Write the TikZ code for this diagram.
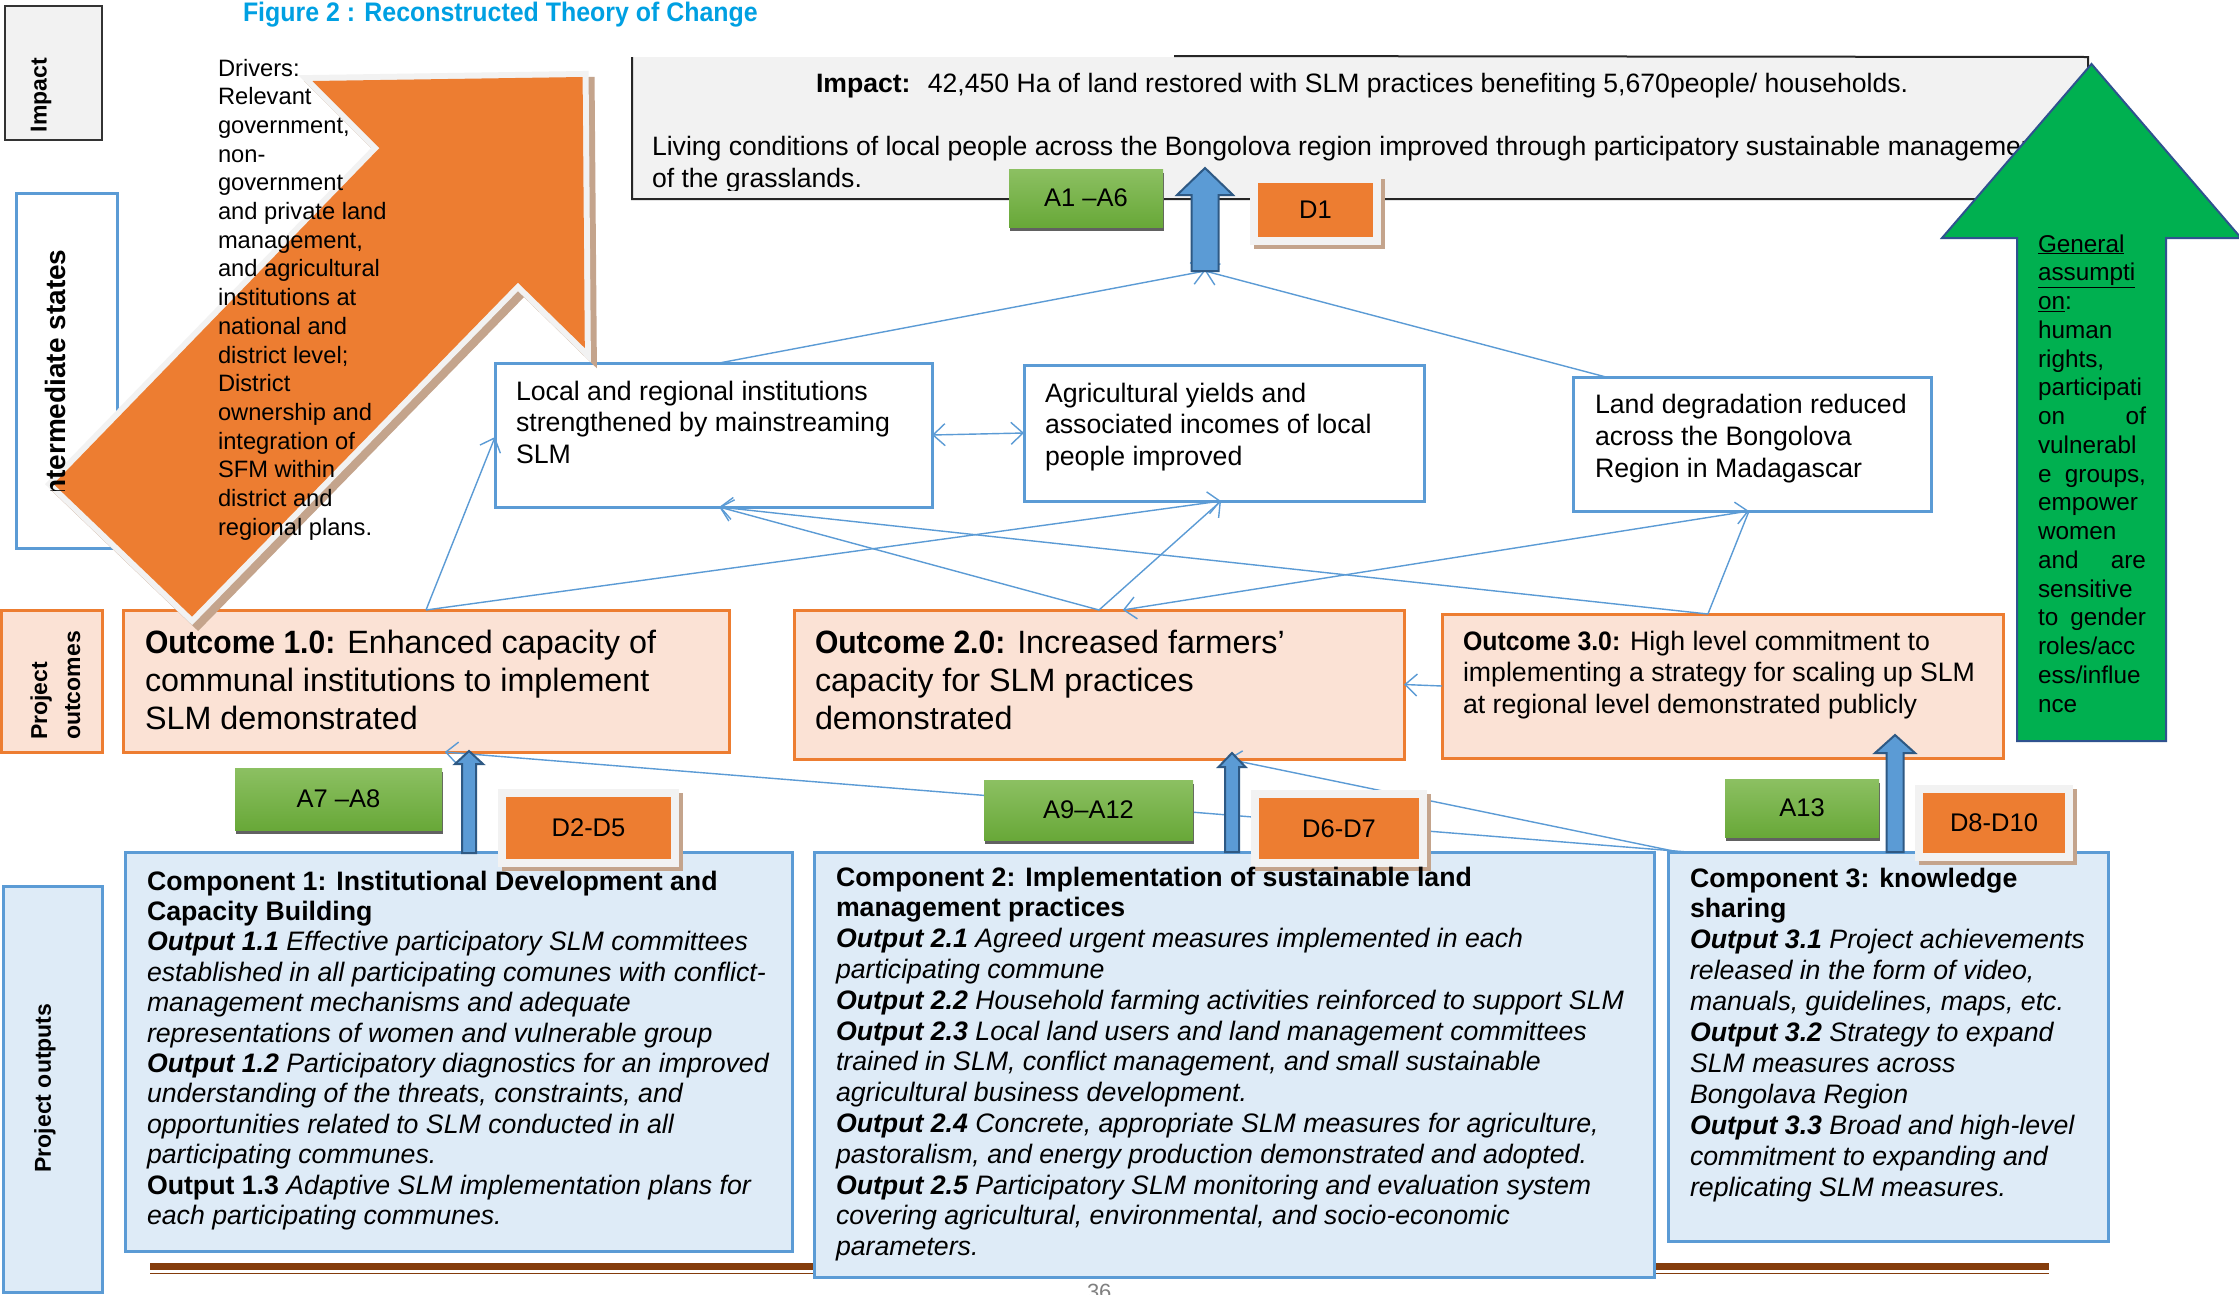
\documentclass[tikz,border=0pt]{standalone}
\usepackage{fontspec}
\setmainfont{Liberation Sans}
\newfontfamily\narrowsans{Liberation Sans}[FakeStretch=0.93]
\usetikzlibrary{arrows.meta,calc}
\definecolor{tblue}{RGB}{0,160,226}
\definecolor{lblue}{RGB}{91,155,213}
\definecolor{pblue}{RGB}{222,235,247}
\definecolor{orng}{RGB}{237,125,49}
\definecolor{peach}{RGB}{251,226,213}
\definecolor{gfill}{RGB}{0,176,80}
\definecolor{gborder}{RGB}{47,82,143}
\definecolor{lgray}{RGB}{242,242,242}
\definecolor{tanc}{RGB}{196,164,140}
\definecolor{gtop}{RGB}{140,192,98}
\definecolor{gbot}{RGB}{104,168,56}
\definecolor{bdark}{RGB}{46,89,132}
\definecolor{brownc}{RGB}{132,60,12}
\newcommand\fsz[2]{\fontsize{#1}{#2}\selectfont}
\newcommand\bx[7]{\node[#1, minimum width={(#5)-(#3)}, minimum height={(#6)-(#4)}] (#2) at ({((#3)+(#5))/2},{((#4)+(#6))/2}) {#7};}
\newcommand\barr[6]{\draw[barrow] ({#1-#6},#2) -- ({#1-#6},#4) -- ({#1-#5},#4) -- (#1,#3) -- ({#1+#5},#4) -- ({#1+#6},#4) -- ({#1+#6},#2) -- cycle;}
\newcommand\tlines[2]{\parbox[t]{#1}{\raggedright #2}}
\newcommand\olab[1]{{\narrowsans\bfseries #1}}
\tikzset{
  plainbox/.style={rectangle, inner sep=0pt, outer sep=0pt},
  bluebox/.style={plainbox, draw=lblue, line width=3pt, fill=white},
  compbox/.style={plainbox, draw=lblue, line width=3pt, fill=pblue},
  outbox/.style={plainbox, draw=orng, line width=3pt, fill=peach},
  abox/.style={plainbox, top color=gtop, bottom color=gbot, font=\fsz{25.5}{30},
     preaction={fill=black!62, transform canvas={shift={(0.5pt,-4pt)}}}},
  dbox/.style={plainbox, fill=orng, draw=lgray, line width=8pt, font=\fsz{25.5}{30},
     preaction={draw=tanc, fill=tanc, line width=8pt, transform canvas={shift={(4pt,-4pt)}}}},
  txt/.style={inner sep=0pt, outer sep=0pt, anchor=base west},
  conn/.style={draw=lblue, line width=1.4pt},
  arr/.style={-{Straight Barb[length=12pt,width=22pt]}},
  arrtwo/.style={{Straight Barb[length=12pt,width=22pt]}-{Straight Barb[length=12pt,width=22pt]}},
  barrow/.style={fill=lblue, draw=bdark, line width=2pt, line join=miter},
}
\begin{document}
\begin{tikzpicture}[x=1pt,y=-1pt]
\fill[white] (0,0) rectangle (2239,1294);
\useasboundingbox (0,0) rectangle (2239,1294);

% title
\node[txt, font=\narrowsans\bfseries\fsz{26.8}{30}, text=tblue] (title) at (243,21) {Figure 2 : Reconstructed Theory of Change};

% side labels
\bx{plainbox, fill=lgray, draw=black!80, line width=2pt}{simp}{4.5}{6}{102}{140}{}
\node[rotate=90, font=\bfseries\fsz{23}{28}] (limp) at (41,95) {Impact};
\bx{bluebox}{sint}{16.5}{193}{117}{548}{}
\bx{outbox}{sout}{1.5}{610}{102}{752}{}
\node[rotate=90, font=\bfseries\fsz{23}{33}, align=left] (lout) at (55.5,685.5) {Project\\outcomes};
\bx{compbox}{sop}{3}{886}{102}{1292}{}
\node[rotate=90, font=\bfseries\fsz{23}{28}] (lop) at (45,1088) {Project outputs};

% impact box
\bx{plainbox, fill=lgray}{imp}{632}{57}{2088}{199}{}
\draw[line width=2pt, black!85] (1174,56) -- (imp.north east) -- (imp.south east) -- (imp.south west) -- (imp.north west);
\node[txt, font=\fsz{26.6}{32}] (impt1) at (816,92) {\textbf{Impact:}~ 42,450 Ha of land restored with SLM practices benefiting 5,670people/ households.};
\begin{scope}
\clip (634,58) rectangle (2086,190);
\node[txt, font=\fsz{26.6}{32}] (impt2) at (652,155) {\tlines{1600pt}{Living conditions of local people across the Bongolova region improved through participatory sustainable management\\of the grasslands.}};
\end{scope}

% intermediate states boxes
\bx{bluebox}{loc}{495}{363}{932}{507}{}
\node[txt, font=\fsz{26.7}{31.5}] (loct) at (516,400) {\tlines{500pt}{Local and regional institutions\\strengthened by mainstreaming\\SLM}};
\bx{bluebox}{agri}{1024}{365}{1424}{501}{}
\node[txt, font=\fsz{26.7}{31.5}] (agrit) at (1045,402) {\tlines{500pt}{Agricultural yields and\\associated incomes of local\\people improved}};
\bx{bluebox}{land}{1573}{377}{1931}{511}{}
\node[txt, font=\fsz{26.7}{32}] (landt) at (1595,413) {\tlines{500pt}{Land degradation reduced\\across the Bongolova\\Region in Madagascar}};

% outcome boxes
\bx{outbox}{o1}{123}{610}{729}{752}{}
\node[txt, font=\fsz{32.3}{38}] (o1t) at (145,653) {\tlines{800pt}{\olab{Outcome 1.0:} Enhanced capacity of\\communal institutions to implement\\SLM demonstrated}};
\bx{outbox}{o2}{794}{610}{1404}{759}{}
\node[txt, font=\fsz{32.3}{38}] (o2t) at (815,653) {\tlines{800pt}{\olab{Outcome 2.0:} Increased farmers’\\capacity for SLM practices\\demonstrated}};
\bx{outbox}{o3}{1442}{614}{2003}{758}{}
\node[txt, font=\fsz{26.7}{31.5}] (o3t) at (1463,650) {\tlines{800pt}{\olab{Outcome 3.0:} High level commitment to\\implementing a strategy for scaling up SLM\\at regional level demonstrated publicly}};

% bottom bar
\fill[brownc] (150,1263) rectangle (2049,1270);
\draw[brownc, line width=1.5pt] (150,1273.5) -- (2049,1273.5);

% component boxes
\bx{compbox}{c1}{125}{852}{792}{1251}{}
\bx{compbox}{c2}{814}{852}{1654}{1277}{}
\bx{compbox}{c3}{1668}{852}{2108}{1241}{}

% connector points
\coordinate (c0) at (1205,271);
\coordinate (locT) at ($(loc.north west)!0.513!(loc.north east)$);
\coordinate (locL) at ($(loc.north west)!0.514!(loc.south west)$);
\coordinate (locB) at ($(loc.south west)!0.513!(loc.south east)$);
\coordinate (agriB) at ($(agri.south west)!0.4925!(agri.south east)$);
\coordinate (landT) at ($(land.north west)!0.092!(land.north east)$);
\coordinate (landB) at ($(land.south west)!0.4916!(land.south east)$);
\coordinate (o2Tb) at ($(o2.north west)!0.539!(o2.north east)$);
\coordinate (o3T) at ($(o3.north west)!0.474!(o3.north east)$);
\coordinate (o1B) at ($(o1.south west)!0.531!(o1.south east)$);
\coordinate (o2B) at ($(o2.south west)!0.711!(o2.south east)$);
\coordinate (c3a) at ($(c3.north west)!0.045!(c3.north east)$);
\coordinate (c3b) at ($(c3.north west)!0.023!(c3.north east)$);

% connectors
\draw[conn, arr] (locT) -- (c0);
\draw[conn, arr] (landT) -- (c0);
\draw[conn, arr] (o1.north) -- (locL);
\draw[conn, arr] (o1.north) -- (agriB);
\draw[conn, arr] (o2.north) -- (locB);
\draw[conn, arr] (o2.north) -- (agriB);
\draw[conn, arr] (o3T) -- (locB);
\draw[conn] (o3T) -- (landB);
\draw[conn, arrtwo] (landB) -- (o2Tb);
\draw[conn, arr] (o3.west) -- (o2.east);
\draw[conn, arrtwo] (loc.east) -- (agri.west);
\draw[conn, arr] (c3a) -- (o1B);
\draw[conn, arr] (c3b) -- (o2B);

% big orange arrow
\path[fill=tanc, draw=tanc, line width=12pt, line join=miter, shift={(6,6)}]
  (312.5,81) -- (582.6,77) -- (584.8,348) -- (517.9,282.6) -- (192,616.6) -- (53.6,484) -- (379.5,148) -- cycle;
\path[preaction={draw=lgray, line width=12pt, line join=miter}, fill=orng]
  (312.5,81) -- (582.6,77) -- (584.8,348) -- (517.9,282.6) -- (192,616.6) -- (53.6,484) -- (379.5,148) -- cycle;

% intermediate states label (partly hidden)
\begin{scope}
\clip (0,190) rectangle (130,490);
\node[rotate=90, font=\bfseries\fsz{28}{32}] (lint) at (55,377) {Intermediate states};
\end{scope}

% drivers text
\node[txt, font=\fsz{23.7}{28.7}] (drv) at (218,76) {\tlines{300pt}{Drivers:\\Relevant\\government,\\non-\\government\\and private land\\management,\\and agricultural\\institutions at\\national and\\district level;\\District\\ownership and\\integration of\\SFM within\\district and\\regional plans.}};

% block arrows
\barr{1205}{271}{168}{195}{28}{13.5}
\barr{469}{853}{751}{764}{14}{7}
\barr{1232}{852}{753}{767}{13.5}{7}
\barr{1895}{852}{735}{753}{20}{8.5}

% A boxes
\bx{abox}{a1}{1009}{169}{1163}{227}{A1 –A6}
\bx{abox}{a7}{235}{768}{442}{830}{A7 –A8}
\bx{abox}{a9}{984}{780}{1193}{840}{A9–A12}
\bx{abox}{a13}{1725}{779}{1879}{837}{A13}

% D boxes
\bx{dbox}{d1}{1254}{179}{1377}{241}{D1}
\bx{dbox}{d2}{502}{793}{675}{863}{D2-D5}
\bx{dbox}{d6}{1255}{794}{1423}{863}{D6-D7}
\bx{dbox}{d8}{1919}{789}{2069}{857}{D8-D10}

% component texts
\node[txt, font=\itshape\fsz{26.7}{30.4}] (c1t) at (147,890) {\tlines{1000pt}{%
\textbf{\upshape Component 1: Institutional Development and}\\
\textbf{\upshape Capacity Building}\\
\textbf{Output 1.1} Effective participatory SLM committees\\
established in all participating comunes with conflict-\\
management mechanisms and adequate\\
representations of women and vulnerable group\\
\textbf{Output 1.2} Participatory diagnostics for an improved\\
understanding of the threats, constraints, and\\
opportunities related to SLM conducted in all\\
participating communes.\\
\textbf{\upshape Output 1.3} Adaptive SLM implementation plans for\\
each participating communes.}};
\node[txt, font=\itshape\fsz{26.7}{30.8}] (c2t) at (836,886) {\tlines{1000pt}{%
\textbf{\upshape Component 2: Implementation of sustainable land}\\
\textbf{\upshape management practices}\\
\textbf{Output 2.1} Agreed urgent measures implemented in each\\
participating commune\\
\textbf{Output 2.2} Household farming activities reinforced to support SLM\\
\textbf{Output 2.3} Local land users and land management committees\\
trained in SLM, conflict management, and small sustainable\\
agricultural business development.\\
\textbf{Output 2.4} Concrete, appropriate SLM measures for agriculture,\\
pastoralism, and energy production demonstrated and adopted.\\
\textbf{Output 2.5} Participatory SLM monitoring and evaluation system\\
covering agricultural, environmental, and socio-economic\\
parameters.}};
\node[txt, font=\itshape\fsz{26.7}{30.9}] (c3t) at (1690,887) {\tlines{1000pt}{%
\textbf{\upshape Component 3: knowledge}\\
\textbf{\upshape sharing}\\
\textbf{Output 3.1} Project achievements\\
released in the form of video,\\
manuals, guidelines, maps, etc.\\
\textbf{Output 3.2} Strategy to expand\\
SLM measures across\\
Bongolava Region\\
\textbf{Output 3.3} Broad and high-level\\
commitment to expanding and\\
replicating SLM measures.}};

% green assumption arrow
\draw[fill=gfill, draw=gborder, line width=2pt, line join=miter]
  (2017,741) -- (2017,238) -- (1942,238) -- (2091.5,64) -- (2241,238) -- (2166,238) -- (2166,741) -- cycle;
\node[txt, font=\fsz{24.3}{28.75}] (gtxt) at (2038,252) {\tlines{110pt}{%
\underline{General}\\\underline{assumpti}\\\underline{on}:\\human\\rights,\\participati\\%
\makebox[108pt][s]{on of}\\vulnerabl\\\makebox[108pt][s]{e groups,}\\empower\\women\\%
\makebox[108pt][s]{and are}\\sensitive\\\makebox[108pt][s]{to gender}\\roles/acc\\ess/influe\\nce}};

% page number
\node[txt, font=\fsz{22}{26}, text=black!50] (pg) at (1087,1299) {36};
\end{tikzpicture}
\end{document}
